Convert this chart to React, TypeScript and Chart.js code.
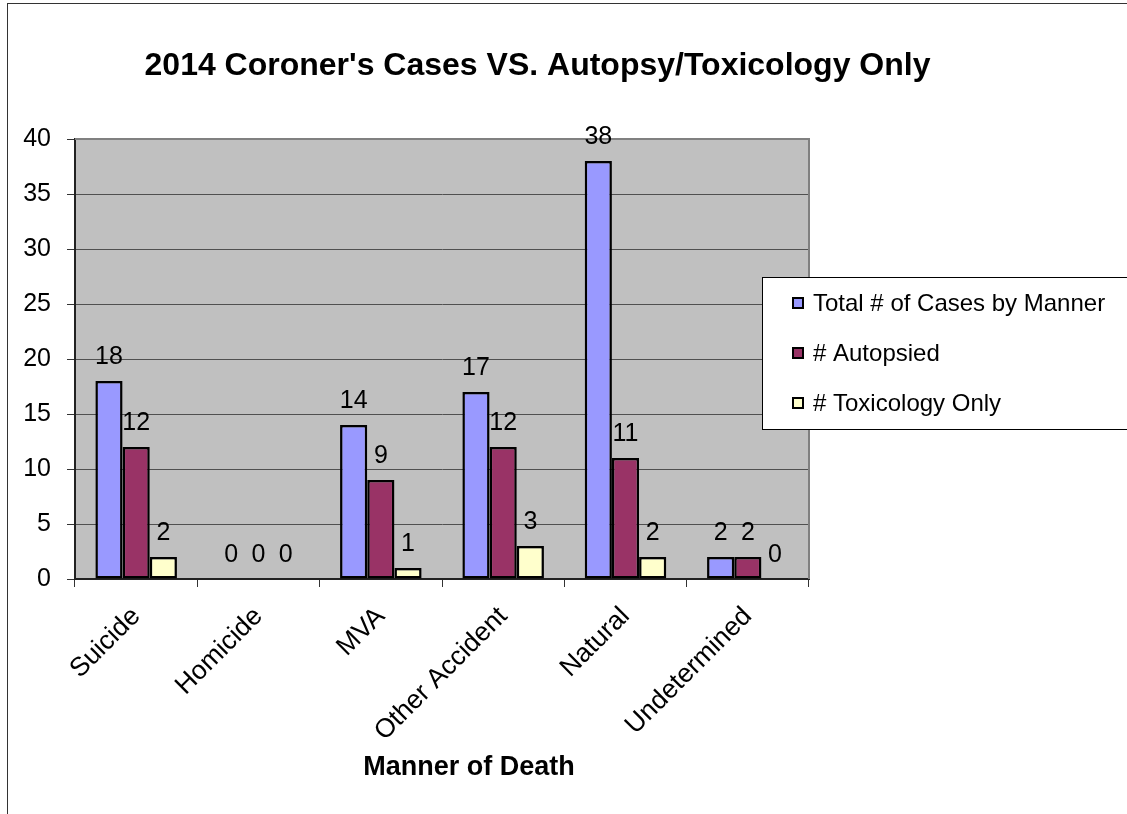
import React, { useEffect, useRef } from "react";
import { Chart, registerables } from "chart.js";

Chart.register(...registerables);

const categories = ["Suicide", "Homicide", "MVA", "Other Accident", "Natural", "Undetermined"];
const totalCases = [18, 0, 14, 17, 38, 2];
const autopsied = [12, 0, 9, 12, 11, 2];
const toxicologyOnly = [2, 0, 1, 3, 2, 0];
const seriesLabels = ["Total # of Cases by Manner", "# Autopsied", "# Toxicology Only"];
const seriesColors = ["#9999FF", "#993366", "#FFFFCC"];
const yMin = 0;
const yMax = 40;
const yStep = 5;
const chartTitle = "2014 Coroner's Cases VS. Autopsy/Toxicology Only";
const xAxisTitle = "Manner of Death";

const FONT = "'Liberation Sans', Arial, sans-serif";

const plotBackground = {
  id: "plotBackground",
  beforeDraw(chart: any) {
    const { ctx, chartArea } = chart;
    const { left, top, right, bottom } = chartArea;
    ctx.save();
    ctx.fillStyle = "#C0C0C0";
    ctx.fillRect(left, top, right - left, bottom - top);
    ctx.restore();
  },
  beforeDatasetsDraw(chart: any) {
    const { ctx, chartArea } = chart;
    const { left, top, right, bottom } = chartArea;
    ctx.save();
    ctx.strokeStyle = "#808080";
    ctx.lineWidth = 2;
    ctx.beginPath();
    ctx.moveTo(left, top);
    ctx.lineTo(right, top);
    ctx.lineTo(right, bottom);
    ctx.stroke();
    ctx.restore();
  },
};

const dataLabels = {
  id: "dataLabels",
  afterDatasetsDraw(chart: any) {
    const { ctx } = chart;
    ctx.save();
    ctx.font = `25px ${FONT}`;
    ctx.fillStyle = "#000";
    ctx.textAlign = "center";
    ctx.textBaseline = "alphabetic";
    chart.data.datasets.forEach((ds: any, i: number) => {
      const meta = chart.getDatasetMeta(i);
      meta.data.forEach((el: any, j: number) => {
        ctx.fillText(String(ds.data[j]), el.x, el.y - 17);
      });
    });
    ctx.restore();
  },
};

const decorations = {
  id: "decorations",
  afterDraw(chart: any) {
    const { ctx } = chart;
    ctx.save();
    // Title
    ctx.fillStyle = "#000";
    ctx.font = `bold 32px ${FONT}`;
    ctx.textAlign = "center";
    ctx.textBaseline = "alphabetic";
    ctx.fillText(chartTitle, 537.5, 75);
    // Axis title
    ctx.font = `bold 27px ${FONT}`;
    ctx.fillText(xAxisTitle, 469, 775);

    // Legend
    const lx = 762;
    const ly = 277;
    const lh = 152;
    ctx.fillStyle = "#fff";
    ctx.fillRect(lx, ly, 400, lh);
    ctx.strokeStyle = "#000";
    ctx.lineWidth = 1;
    ctx.strokeRect(lx + 0.5, ly + 0.5, 400, lh);
    ctx.font = `24px ${FONT}`;
    ctx.textAlign = "left";
    ctx.textBaseline = "middle";
    chart.data.datasets.forEach((ds: any, i: number) => {
      const cy = ly + 26 + i * 50;
      ctx.fillStyle = ds.backgroundColor;
      ctx.fillRect(793, cy - 5, 10, 10);
      ctx.strokeStyle = "#000";
      ctx.lineWidth = 2;
      ctx.strokeRect(793, cy - 5, 10, 10);
      ctx.fillStyle = "#000";
      ctx.fillText(ds.label, 813, cy + 1);
    });
    ctx.restore();
  },
};

export default function App() {
  const ref = useRef<HTMLCanvasElement>(null);

  useEffect(() => {
    const canvas = ref.current!;
    const mk = (label: string, data: number[], color: string) => ({
      label,
      data,
      backgroundColor: color,
      borderColor: "#000",
      borderWidth: 2.5,
      borderSkipped: false as any,
      categoryPercentage: 0.6667,
      barPercentage: 1,
    });
    const chart = new Chart(canvas, {
      type: "bar",
      data: {
        labels: categories,
        datasets: [
          mk(seriesLabels[0], totalCases, seriesColors[0]),
          mk(seriesLabels[1], autopsied, seriesColors[1]),
          mk(seriesLabels[2], toxicologyOnly, seriesColors[2]),
        ],
      },
      options: {
        responsive: false,
        animation: false,
        devicePixelRatio: 1,
        layout: { padding: { left: 0, top: 139, right: 318, bottom: 0 } },
        plugins: {
          legend: { display: false },
          title: { display: false },
          tooltip: { enabled: false },
        },
        scales: {
          x: {
            offset: true,
            afterFit: (s: any) => {
              s.height = 235;
            },
            grid: {
              display: true,
              offset: true,
              drawOnChartArea: false,
              drawTicks: true,
              tickLength: 8,
              tickColor: "#333",
            },
            border: { display: true, color: "#222", width: 2 },
            ticks: {
              autoSkip: false,
              maxRotation: 45,
              minRotation: 45,
              padding: 14,
              color: "#000",
              font: { family: FONT, size: 26.5 },
            },
          },
          y: {
            min: yMin,
            max: yMax,
            afterFit: (s: any) => {
              s.width = 75;
            },
            grid: {
              color: "#505050",
              lineWidth: 1,
              drawTicks: true,
              tickLength: 8,
              tickColor: "#333",
            },
            border: { display: true, color: "#222", width: 2 },
            ticks: {
              stepSize: yStep,
              padding: 16,
              color: "#000",
              font: { family: FONT, size: 25 },
            },
          },
        },
      },
      plugins: [plotBackground, dataLabels, decorations],
    });
    return () => chart.destroy();
  }, []);

  return (
    <div
      style={{
        position: "fixed",
        left: 0,
        top: 0,
        width: 1127,
        height: 814,
        overflow: "hidden",
        background: "#fff",
      }}
    >
      <div
        style={{
          position: "absolute",
          left: 7,
          top: 3,
          width: 1300,
          height: 1000,
          border: "1px solid #333",
          boxSizing: "border-box",
        }}
      />
      <canvas
        ref={ref}
        width={1127}
        height={814}
        style={{ position: "absolute", left: 0, top: 0, width: 1127, height: 814 }}
      />
    </div>
  );
}
